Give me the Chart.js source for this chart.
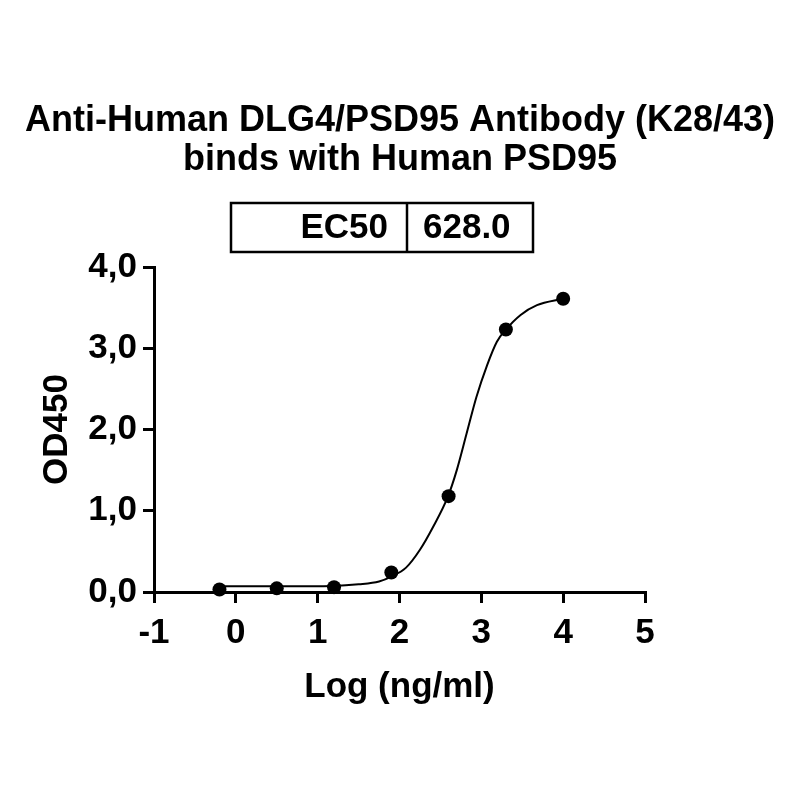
<!DOCTYPE html>
<html>
<head>
<meta charset="utf-8">
<script src="https://cdn.jsdelivr.net/npm/chart.js@4.4.1/dist/chart.umd.min.js"></script>
<style>
  html, body { margin: 0; padding: 0; background: #fff; }
  #wrap { width: 800px; height: 800px; }
</style>
</head>
<body>
<div id="wrap"><canvas id="chart" width="800" height="800"></canvas></div>
<script>
// measured points
const logConc = [-0.2, 0.5, 1.2, 1.9, 2.6, 3.3, 4.0];
const od450 = [0.03, 0.045, 0.06, 0.24, 1.18, 3.23, 3.61];

// fitted curve
const fitX = [-0.2, 0.5, 1.2, 1.5, 1.75, 1.9, 2.08, 2.25, 2.41, 2.59, 2.70, 2.82, 2.94, 3.07, 3.19, 3.30, 3.48, 3.68, 4.0];
const fitY = [0.07, 0.07, 0.075, 0.095, 0.13, 0.19, 0.30, 0.52, 0.80, 1.17, 1.50, 1.95, 2.40, 2.79, 3.08, 3.23, 3.41, 3.53, 3.61];

const titleLines = ["Anti-Human DLG4/PSD95 Antibody (K28/43)", "binds with Human PSD95"];
const ec50Label = "EC50";
const ec50Value = "628.0";

const FONT = "'Liberation Sans', Arial, sans-serif";

// ================================
//   TITLE + EC50 box
// ================================
const header = {
    id: "header",
    afterDraw(chart) {
        const ctx = chart.ctx;
        ctx.save();
        ctx.fillStyle = "#000";
        ctx.font = "bold 36px " + FONT;
        ctx.textAlign = "center";
        ctx.textBaseline = "middle";
        ctx.fillText(titleLines[0], 400, 121);
        ctx.fillText(titleLines[1], 400, 160);

        const left = 231, right = 533, mid = 407, top = 203, bottom = 252;
        ctx.strokeStyle = "#000";
        ctx.lineWidth = 2.5;
        ctx.strokeRect(left, top, right - left, bottom - top);
        ctx.beginPath();
        ctx.moveTo(mid, top);
        ctx.lineTo(mid, bottom);
        ctx.stroke();
        ctx.font = "bold 35px " + FONT;
        ctx.textAlign = "right";
        ctx.fillText(ec50Label, mid - 19, (top + bottom) / 2 + 1);
        ctx.textAlign = "left";
        ctx.fillText(ec50Value, mid + 16, (top + bottom) / 2 + 1);
        ctx.restore();
    }
};

const ctx = document.getElementById("chart").getContext("2d");

new Chart(ctx, {
    type: "scatter",
    data: {
        datasets: [
            {
                label: "fit",
                data: fitX.map((x, i) => ({ x: x, y: fitY[i] })),
                showLine: true,
                borderColor: "#000",
                borderWidth: 2,
                pointRadius: 0,
                cubicInterpolationMode: "monotone",
                clip: false,
                order: 2
            },
            {
                label: "OD450",
                data: logConc.map((x, i) => ({ x: x, y: od450[i] })),
                backgroundColor: "#000",
                borderColor: "#000",
                pointRadius: 7,
                pointBorderWidth: 0,
                clip: false,
                order: 1
            }
        ]
    },
    options: {
        responsive: false,
        animation: false,
        layout: { padding: { top: 267, right: 155, bottom: 0, left: 0 } },
        plugins: {
            legend: { display: false },
            tooltip: { enabled: false },
            title: { display: false }
        },
        scales: {
            x: {
                type: "linear",
                min: -1,
                max: 5,
                afterFit: (scale) => { scale.height = 208; },
                border: { display: true, color: "#000", width: 3 },
                grid: { display: true, drawOnChartArea: false, drawTicks: true, tickLength: 11, color: "#000", lineWidth: 3 },
                ticks: {
                    stepSize: 1,
                    color: "#000",
                    padding: 9,
                    font: { family: FONT, size: 35, weight: "bold" },
                    maxRotation: 0
                },
                title: {
                    display: true,
                    text: "Log (ng/ml)",
                    color: "#000",
                    font: { family: FONT, size: 35, weight: "bold" },
                    padding: { top: 0, bottom: 92 }
                }
            },
            y: {
                type: "linear",
                min: 0,
                max: 4,
                afterFit: (scale) => { scale.width = 154; },
                border: { display: true, color: "#000", width: 3 },
                grid: { display: true, drawOnChartArea: false, drawTicks: true, tickLength: 11, color: "#000", lineWidth: 3 },
                ticks: {
                    stepSize: 1,
                    color: "#000",
                    padding: 6,
                    font: { family: FONT, size: 35, weight: "bold" },
                    callback: (v) => v.toFixed(1).replace(".", ",")
                },
                title: {
                    display: true,
                    text: "OD450",
                    color: "#000",
                    font: { family: FONT, size: 35, weight: "bold" },
                    padding: { top: 36, bottom: 0 }
                }
            }
        }
    },
    plugins: [header]
});
</script>
</body>
</html>
